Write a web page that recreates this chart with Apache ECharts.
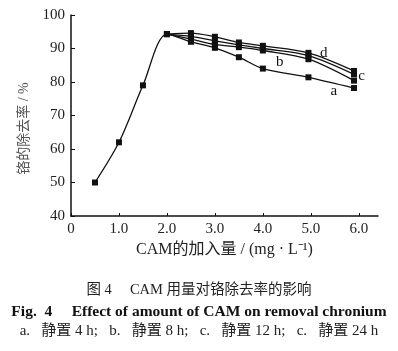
<!DOCTYPE html>
<html>
<head>
<meta charset="utf-8">
<script src="https://cdn.jsdelivr.net/npm/echarts@6/dist/echarts.min.js"></script>
<style>
  html, body { margin: 0; padding: 0; background: #fff; }
  #plot { width: 398px; height: 351px; }
</style>
</head>
<body>
<div id="plot"></div>
<script>
// 数据
var xRise = [0.5, 1.0, 1.5, 2.0];
var yRise = [50, 62, 79, 94.3];
var xTail = [2.0, 2.5, 3.0, 3.5, 4.0, 4.95, 5.9];
var seriesA = [94.3, 92.0, 90.2, 87.4, 84.0, 81.4, 78.2];
var seriesB = [94.3, 92.8, 91.2, 90.4, 89.4, 86.8, 80.4];
var seriesC = [94.3, 93.6, 92.3, 91.1, 90.0, 87.9, 82.3];
var seriesD = [94.3, 94.6, 93.5, 91.8, 90.8, 88.7, 83.3];
var seriesNames = ['a', 'b', 'c', 'd'];
// 曲线标注的位置 (数据坐标)
var tagX = [5.48, 4.35, 6.06, 5.27];
var tagY = [77.3, 86.0, 81.8, 88.7];
var xTicks = [0, 1, 2, 3, 4, 5, 6];

var serif = '"Liberation Serif", "DejaVu Serif", serif';
var cjk = '"Liberation Serif", "Noto Sans CJK SC", serif';

var myChart = echarts.init(document.getElementById('plot'));

function pairs(xs, ys) {
  return xs.map(function (x, i) { return [x, ys[i]]; });
}

var tails = [seriesA, seriesB, seriesC, seriesD];

var series = tails.map(function (vals, k) {
  var pts = pairs(xTail, vals);
  if (k === 0) pts = pairs(xRise.slice(0, 3), yRise.slice(0, 3)).concat(pts);
  return {
    name: seriesNames[k],
    type: 'line',
    data: pts,
    smooth: 0.3,
    symbol: 'rect',
    symbolSize: 6,
    showAllSymbol: true,
    lineStyle: { color: '#111', width: 1.3 },
    itemStyle: { color: '#111' },
    z: 3 + k,
    markPoint: {
      symbol: 'circle',
      symbolSize: 0,
      label: {
        show: true,
        position: 'inside',
        formatter: seriesNames[k],
        color: '#111',
        fontFamily: serif,
        fontSize: 15
      },
      data: [{ coord: [tagX[k], tagY[k]] }]
    }
  };
});

var option = {
  animation: false,
  backgroundColor: '#fff',
  grid: { left: 71, right: 20, top: 15, bottom: 135 },
  title: [
    {
      text: '图 4     CAM 用量对铬除去率的影响',
      left: 'center', top: 278,
      textStyle: { fontFamily: cjk, fontSize: 14.5, fontWeight: 'normal', color: '#222' }
    },
    {
      text: 'Fig.  4     Effect of amount of CAM on removal chronium',
      left: 'center', top: 299,
      textStyle: { fontFamily: serif, fontSize: 15.5, fontWeight: 'bold', color: '#111' }
    },
    {
      text: 'a.   静置 4 h;   b.   静置 8 h;   c.   静置 12 h;   c.   静置 24 h',
      left: 'center', top: 319,
      textStyle: { fontFamily: cjk, fontSize: 15, fontWeight: 'normal', color: '#222' }
    }
  ],
  xAxis: {
    type: 'value',
    min: 0,
    max: 6.4,
    interval: 1,
    name: 'CAM的加入量 / (mg · L⁻¹)',
    nameLocation: 'middle',
    nameGap: 25,
    nameTextStyle: { fontFamily: cjk, fontSize: 16, color: '#222' },
    axisLine: { show: true, onZero: false, lineStyle: { color: '#111', width: 1.5 } },
    axisTick: { show: true, inside: true, length: 3, customValues: xTicks, lineStyle: { color: '#111' } },
    axisLabel: {
      customValues: xTicks,
      margin: 6,
      fontFamily: serif, fontSize: 15, color: '#222',
      formatter: function (v) { return v === 0 ? '0' : v.toFixed(1); }
    },
    splitLine: { show: false }
  },
  yAxis: {
    type: 'value',
    min: 40,
    max: 100,
    interval: 10,
    name: '铬的除去率 / %',
    nameLocation: 'middle',
    nameGap: 36,
    nameTextStyle: { fontFamily: cjk, fontSize: 14, color: '#555', padding: [0, 26, 0, 0] },
    axisLine: { show: true, lineStyle: { color: '#111', width: 1.5 } },
    axisTick: { show: true, inside: true, length: 4, lineStyle: { color: '#111' } },
    axisLabel: { margin: 6, fontFamily: serif, fontSize: 15, color: '#222' },
    splitLine: { show: false }
  },
  series: series
};

myChart.setOption(option);
</script>
</body>
</html>
